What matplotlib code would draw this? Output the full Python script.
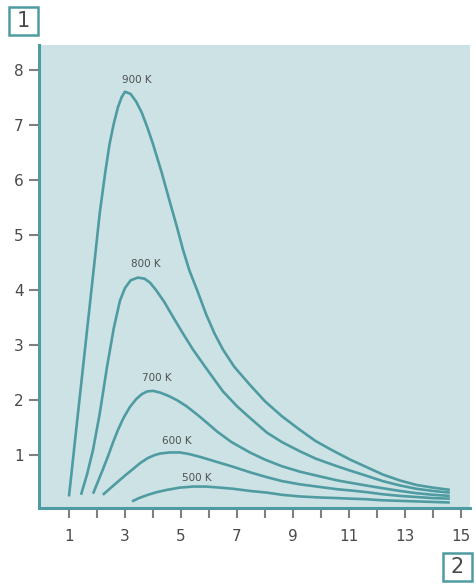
#! /usr/bin/python3

# Blackbody curves for 500 K ... 900 K

import numpy as np
import matplotlib
matplotlib.use("Agg")
import matplotlib.pyplot as plt
from matplotlib.patches import Rectangle

# wavelength (x) and radiance (y) for each temperature
x900 = [1.0, 1.3, 1.6, 1.9, 2.1, 2.3, 2.45, 2.6, 2.75, 2.88, 3.0, 3.2, 3.4, 3.6, 3.8,
        4.0, 4.3, 4.6, 4.85, 5.07, 5.3, 5.57, 5.9, 6.2, 6.5, 6.9, 7.46, 8.0, 8.6,
        9.25, 9.8, 10.4, 11.04, 11.6, 12.2, 12.82, 13.4, 14.0, 14.6]
y900 = [0.24, 1.65, 3.05, 4.45, 5.4, 6.15, 6.65, 7.02, 7.32, 7.5, 7.6, 7.56, 7.42, 7.22, 6.95,
        6.65, 6.15, 5.6, 5.15, 4.73, 4.35, 4.0, 3.55, 3.2, 2.91, 2.6, 2.27, 1.97, 1.7,
        1.45, 1.25, 1.08, 0.91, 0.78, 0.64, 0.53, 0.45, 0.4, 0.36]

x800 = [1.43, 1.65, 1.86, 2.1, 2.36, 2.6, 2.82, 3.0, 3.2, 3.46, 3.7, 3.89, 4.1, 4.4,
        4.71, 5.05, 5.43, 5.93, 6.5, 7.0, 7.46, 8.07, 8.6, 9.25, 9.8, 10.4, 11.04,
        11.6, 12.2, 12.82, 13.4, 14.0, 14.6]
y800 = [0.27, 0.65, 1.09, 1.75, 2.6, 3.3, 3.8, 4.03, 4.17, 4.22, 4.2, 4.13, 4.0, 3.78,
        3.51, 3.22, 2.91, 2.55, 2.15, 1.88, 1.67, 1.4, 1.23, 1.06, 0.93, 0.82, 0.71,
        0.62, 0.52, 0.44, 0.38, 0.34, 0.31]

x700 = [1.86, 2.05, 2.21, 2.4, 2.57, 2.75, 2.95, 3.18, 3.4, 3.6, 3.79, 4.0, 4.25, 4.55,
        4.86, 5.2, 5.6, 5.95, 6.29, 6.8, 7.46, 8.0, 8.6, 9.25, 10.0, 10.6, 11.04, 11.6,
        12.2, 12.82, 13.4, 14.0, 14.6]
y700 = [0.29, 0.53, 0.73, 0.98, 1.22, 1.45, 1.67, 1.87, 2.01, 2.1, 2.15, 2.16, 2.13, 2.07,
        1.99, 1.88, 1.72, 1.57, 1.42, 1.23, 1.04, 0.91, 0.79, 0.69, 0.6, 0.53, 0.49, 0.44,
        0.39, 0.34, 0.3, 0.27, 0.25]

x600 = [2.21, 2.5, 2.75, 3.0, 3.29, 3.55, 3.82, 4.05, 4.25, 4.6, 4.96, 5.3, 5.68, 6.2,
        6.86, 7.46, 8.07, 8.6, 9.25, 10.0, 10.6, 11.04, 11.6, 12.2, 12.82, 13.4, 14.0, 14.6]
y600 = [0.27, 0.4, 0.51, 0.62, 0.74, 0.85, 0.94, 0.99, 1.02, 1.04, 1.04, 1.01, 0.96, 0.88,
        0.78, 0.68, 0.59, 0.52, 0.46, 0.41, 0.37, 0.35, 0.32, 0.28, 0.25, 0.23, 0.21, 0.2]

x500 = [3.25, 3.5, 3.82, 4.15, 4.5, 4.95, 5.43, 5.9, 6.4, 6.86, 7.46, 8.07, 8.6, 9.25,
        10.0, 10.6, 11.04, 11.6, 12.2, 12.82, 13.4, 14.0, 14.6]
y500 = [0.15, 0.21, 0.27, 0.32, 0.36, 0.4, 0.42, 0.42, 0.4, 0.38, 0.34, 0.31, 0.27, 0.24,
        0.22, 0.21, 0.2, 0.19, 0.17, 0.16, 0.15, 0.14, 0.13]

labels = ["900 K", "800 K", "700 K", "600 K", "500 K"]
label_x = [3.43, 3.75, 4.14, 4.86, 5.57]
label_y = [7.82, 4.47, 2.4, 1.24, 0.58]

xticks = np.arange(1, 16)
xticklabels = ["1", "", "3", "", "5", "", "7", "", "9", "", "11", "", "13", "", "15"]
yticks = np.arange(1, 9)

teal = "#4e9ca2"
grey = "#4a4a4a"

fig = plt.figure(figsize=(4.77, 5.85), dpi=100, facecolor="w")
ax = fig.add_axes([39/477, 1 - 508/585, 431/477, 463/585])
ax.set_facecolor("#cde2e5")

for xs, ys in [(x900, y900), (x800, y800), (x700, y700), (x600, y600), (x500, y500)]:
    ax.plot(xs, ys, color=teal, lw=1.9, solid_capstyle="butt", solid_joinstyle="round")

for t, lx, ly in zip(labels, label_x, label_y):
    ax.text(lx, ly, t, ha="center", va="center", fontsize=7.5, color="#505050")

ax.set_xlim(-0.07, 15.32)
ax.set_ylim(0.03, 8.45)

# spines: only left and bottom, thick teal
for s in ["top", "right"]:
    ax.spines[s].set_visible(False)
for s in ["left", "bottom"]:
    ax.spines[s].set_color(teal)
    ax.spines[s].set_linewidth(2.2)

ax.set_xticks(xticks)
ax.set_xticklabels(xticklabels)
ax.set_yticks(yticks)
ax.tick_params(axis="both", colors="#808080", length=7, width=1.5, labelsize=11,
               labelcolor=grey)
ax.tick_params(axis="x", pad=8)
ax.tick_params(axis="y", pad=4)

# boxed axis numbers
for (bx, by, txt) in [(9, 7, "1"), (443, 553, "2")]:
    w, h = 29, 28
    fig.patches.append(Rectangle((bx/477, 1 - (by + h)/585), w/477, h/585,
                                 transform=fig.transFigure, fill=False,
                                 edgecolor=teal, lw=1.8))
    fig.text((bx + w/2)/477, 1 - (by + h/2)/585, txt, ha="center", va="center",
             fontsize=15, color=grey)

plt.savefig("out.png", dpi=100)
